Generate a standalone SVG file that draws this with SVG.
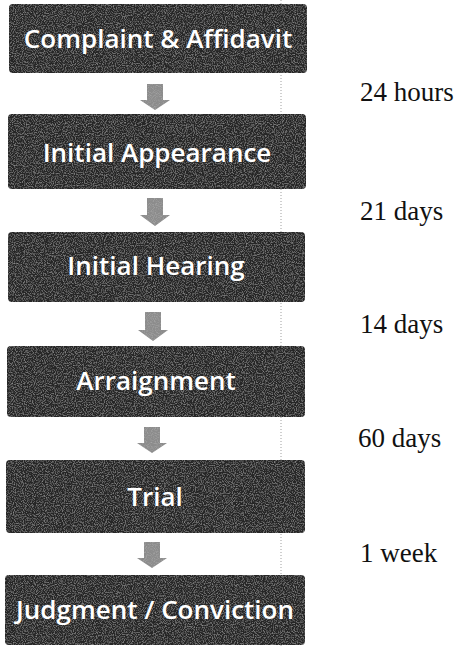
<svg xmlns="http://www.w3.org/2000/svg" width="471" height="648" viewBox="0 0 471 648">
<style>
.box{fill:#262626;}
.lbl{font-family:"Open Sans","DejaVu Sans",sans-serif;font-size:26px;font-weight:600;fill:#ffffff;text-anchor:middle;}
.arr{fill:#8c8c8c;}
.dur{font-family:"Liberation Serif","Times New Roman",serif;font-size:27px;fill:#111111;}
.scan{stroke:#a0a0a0;stroke-width:1;stroke-dasharray:1 2;fill:none;}
</style>
<defs>
<filter id="grain" x="0" y="0" width="100%" height="100%">
<feTurbulence type="fractalNoise" baseFrequency="0.9" numOctaves="2" seed="3" result="n"/>
<feColorMatrix in="n" type="matrix" values="0 0 0 0 0.55  0 0 0 0 0.55  0 0 0 0 0.55  0 0 0 1 -0.45" result="g"/>
<feComposite in="g" in2="SourceGraphic" operator="in" result="gc"/>
<feMerge><feMergeNode in="SourceGraphic"/><feMergeNode in="gc"/></feMerge>
</filter>
</defs>
<rect width="471" height="648" fill="#ffffff"/>
<line class="scan" x1="281" y1="0" x2="281" y2="648"/>
<g id="node-complaint"><rect class="box" x="9" y="4" width="298" height="69" rx="4" filter="url(#grain)"/><text class="lbl" x="158" y="48">Complaint &amp; Affidavit</text></g>
<g id="node-initial-appearance"><rect class="box" x="8" y="114" width="298" height="75" rx="4" filter="url(#grain)"/><text class="lbl" x="157" y="162">Initial Appearance</text></g>
<g id="node-initial-hearing"><rect class="box" x="8" y="232" width="297" height="70" rx="4" filter="url(#grain)"/><text class="lbl" x="156" y="275">Initial Hearing</text></g>
<g id="node-arraignment"><rect class="box" x="7" y="346" width="298" height="71" rx="4" filter="url(#grain)"/><text class="lbl" x="156" y="390">Arraignment</text></g>
<g id="node-trial"><rect class="box" x="6" y="460" width="299" height="73" rx="4" filter="url(#grain)"/><text class="lbl" x="155" y="506">Trial</text></g>
<g id="node-judgment"><rect class="box" x="5" y="575" width="300" height="70" rx="4" filter="url(#grain)"/><text class="lbl" x="155" y="619">Judgment / Conviction</text></g>
<g id="connectors">
<path class="arr" filter="url(#grain)" d="M147,84 h16 v16 h7 l-15,10 l-15,-10 h7 z"/>
<path class="arr" filter="url(#grain)" d="M147,198 h16 v17 h7 l-15,11 l-15,-11 h7 z"/>
<path class="arr" filter="url(#grain)" d="M145,312 h16 v18 h7 l-15,11 l-15,-11 h7 z"/>
<path class="arr" filter="url(#grain)" d="M144,427 h16 v16 h7 l-15,10 l-15,-10 h7 z"/>
<path class="arr" filter="url(#grain)" d="M144,542 h16 v16 h7 l-15,10 l-15,-10 h7 z"/>
</g>
<g id="durations">
<text class="dur" x="360" y="101">24 hours</text>
<text class="dur" x="360" y="220">21 days</text>
<text class="dur" x="360" y="333">14 days</text>
<text class="dur" x="358" y="447">60 days</text>
<text class="dur" x="360" y="562">1 week</text>
</g>
</svg>
